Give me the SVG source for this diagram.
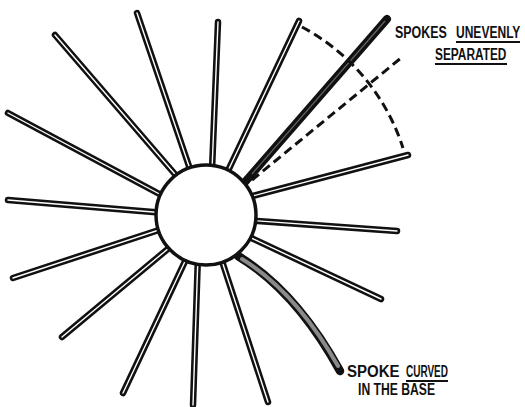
<svg xmlns="http://www.w3.org/2000/svg" xmlns:xlink="http://www.w3.org/1999/xlink" width="525" height="407" viewBox="0 0 525 407">
<style>
.sp{stroke:#111;stroke-width:6.5;stroke-linecap:round;fill:none}
.in{stroke:#fff;stroke-width:1.4;stroke-linecap:round;fill:none}
.lbl{font-family:"Liberation Sans",Arial,sans-serif;font-weight:bold;font-size:17px;fill:#111}
.ul{stroke:#111;stroke-width:2}
.dash{stroke:#111;stroke-width:3;fill:none;stroke-dasharray:9 5}
</style>
<defs>
<g id="spokeLines">
<line x1="55" y1="35" x2="180" y2="180"/>
<line x1="137" y1="13" x2="192" y2="175"/>
<line x1="218" y1="22" x2="212" y2="170"/>
<line x1="299" y1="21" x2="226" y2="175"/>
<line x1="408" y1="155" x2="245" y2="198"/>
<line x1="397" y1="231" x2="245" y2="220"/>
<line x1="381" y1="299" x2="245" y2="235"/>
<line x1="268" y1="402" x2="220" y2="255"/>
<line x1="193" y1="405" x2="198" y2="255"/>
<line x1="123" y1="393" x2="188" y2="255"/>
<line x1="62" y1="337" x2="175" y2="243"/>
<line x1="13" y1="278" x2="165" y2="228"/>
<line x1="8" y1="200" x2="165" y2="213"/>
<line x1="8" y1="113" x2="165" y2="197"/>
</g>
</defs>
<rect width="525" height="407" fill="#fff"/>
<g id="spokes">
<use xlink:href="#spokeLines" class="sp"/>
<use xlink:href="#spokeLines" class="in"/>
</g>
<g id="thick-spoke">
<line x1="245" y1="182" x2="387" y2="19" stroke="#111" stroke-width="8" stroke-linecap="round"/>
<line x1="252" y1="174" x2="385" y2="21" stroke="#666" stroke-width="1.2"/>
</g>
<g id="curved-spoke">
<path d="M238,256 Q296,291 340,371" stroke="#111" stroke-width="8.5" stroke-linecap="round" fill="none"/>
<path d="M242,259 Q296,292 338,366" stroke="#8a8a8a" stroke-width="4" stroke-linecap="round" fill="none"/>
</g>
<g id="guides">
<line class="dash" x1="252" y1="180" x2="401" y2="58"/>
<path class="dash" stroke-width="2.6" stroke-dasharray="7 5" d="M302,27 A210,210 0 0 1 403,148"/>
</g>
<g id="hub">
<circle cx="206" cy="215" r="50" fill="#fff" stroke="#111" stroke-width="3.5"/>
</g>
<g id="label-uneven">
<text class="lbl" transform="translate(395,38) scale(0.7,1)" textLength="74" lengthAdjust="spacingAndGlyphs">SPOKES</text>
<text class="lbl" transform="translate(456,38) scale(0.7,1)" textLength="92" lengthAdjust="spacingAndGlyphs">UNEVENLY</text>
<line class="ul" x1="456" y1="42" x2="520" y2="42"/>
<text class="lbl" transform="translate(435,60) scale(0.7,1)" textLength="102" lengthAdjust="spacingAndGlyphs">SEPARATED</text>
<line class="ul" x1="435" y1="64" x2="507" y2="64"/>
</g>
<g id="label-curved">
<text class="lbl" transform="translate(347,377) scale(0.7,1)" textLength="75" lengthAdjust="spacingAndGlyphs">SPOKE</text>
<text class="lbl" transform="translate(406,377) scale(0.7,1)" textLength="60" lengthAdjust="spacingAndGlyphs">CURVED</text>
<line class="ul" x1="406" y1="381" x2="448" y2="381"/>
<text class="lbl" transform="translate(358,395) scale(0.7,1)" textLength="110" lengthAdjust="spacingAndGlyphs">IN THE BASE</text>
</g>
</svg>
